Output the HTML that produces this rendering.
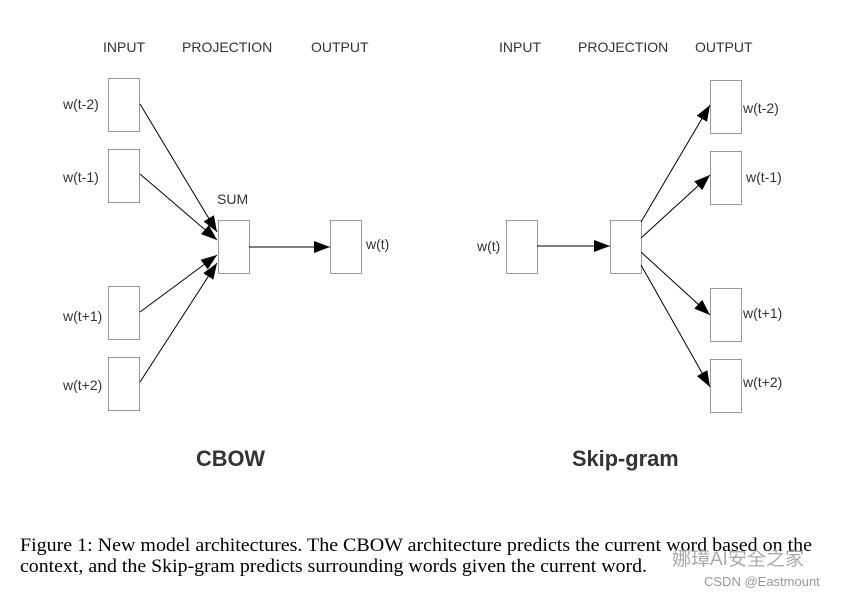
<!DOCTYPE html>
<html><head><style>
body{margin:0;background:#fff;width:844px;height:596px;overflow:hidden;position:relative}
svg{position:absolute;left:0;top:0}
</style></head><body>
<svg width="844" height="596" font-family="Liberation Sans, sans-serif">
<defs><marker id="a" markerWidth="16" markerHeight="12" refX="16" refY="6" orient="auto" markerUnits="userSpaceOnUse"><path d="M0,0L16,6L0,12z" fill="#000"/></marker></defs>
<g font-size="14" fill="#333">
<text x="103" y="52">INPUT</text><text x="182" y="52">PROJECTION</text><text x="311" y="52">OUTPUT</text>
<text x="499" y="52">INPUT</text><text x="578" y="52">PROJECTION</text><text x="695" y="52">OUTPUT</text>
<text x="63" y="109">w(t-2)</text><text x="63" y="182">w(t-1)</text><text x="63" y="321">w(t+1)</text><text x="63" y="390">w(t+2)</text>
<text x="217" y="204">SUM</text><text x="366" y="249">w(t)</text>
<text x="477" y="251">w(t)</text>
<text x="743" y="113">w(t-2)</text><text x="746" y="182">w(t-1)</text><text x="743" y="318">w(t+1)</text><text x="743" y="387">w(t+2)</text>
</g>
<g fill="#fff" stroke="#999" stroke-width="1">
<rect x="108.5" y="78.5" width="31" height="53"/><rect x="108.5" y="149.5" width="31" height="53"/>
<rect x="108.5" y="286.5" width="31" height="53"/><rect x="108.5" y="357.5" width="31" height="53"/>
<rect x="218.5" y="220.5" width="31" height="53"/><rect x="330.5" y="220.5" width="31" height="53"/>
<rect x="506.5" y="220.5" width="31" height="53"/><rect x="610.5" y="220.5" width="31" height="53"/>
<rect x="710.5" y="80.5" width="31" height="53"/><rect x="710.5" y="151.5" width="31" height="53"/>
<rect x="710.5" y="288.5" width="31" height="53"/><rect x="710.5" y="359.5" width="31" height="53"/>
</g>
<g stroke="#000" stroke-width="1" marker-end="url(#a)">
<line x1="140" y1="104" x2="217" y2="232"/><line x1="140" y1="174" x2="217" y2="240"/>
<line x1="140" y1="312" x2="217" y2="255"/><line x1="140" y1="382" x2="217" y2="263"/>
<line x1="249" y1="247" x2="330" y2="247"/>
<line x1="537" y1="246" x2="610" y2="246"/>
<line x1="641" y1="222" x2="710" y2="105"/><line x1="641" y1="238" x2="710" y2="175"/>
<line x1="641" y1="252" x2="710" y2="315"/><line x1="641" y1="265" x2="710" y2="387"/>
</g>
<text x="196" y="466" font-size="21.8" font-weight="bold" fill="#333">CBOW</text>
<text x="572" y="466" font-size="21.8" font-weight="bold" fill="#333">Skip-gram</text>
<g font-family="Liberation Serif, serif" font-size="18.5" fill="#000">
<text x="20" y="551" textLength="792" lengthAdjust="spacingAndGlyphs">Figure 1: New model architectures. The CBOW architecture predicts the current word based on the</text>
<text x="20" y="572" textLength="627" lengthAdjust="spacingAndGlyphs">context, and the Skip-gram predicts surrounding words given the current word.</text>
</g>
<text x="672" y="565" font-family="Liberation Sans, Noto Sans CJK SC, sans-serif" font-size="19" fill="#aaa">娜璋AI安全之家</text>
<text x="704" y="586" font-size="13" fill="#999">CSDN @Eastmount</text>
</svg>
</body></html>
